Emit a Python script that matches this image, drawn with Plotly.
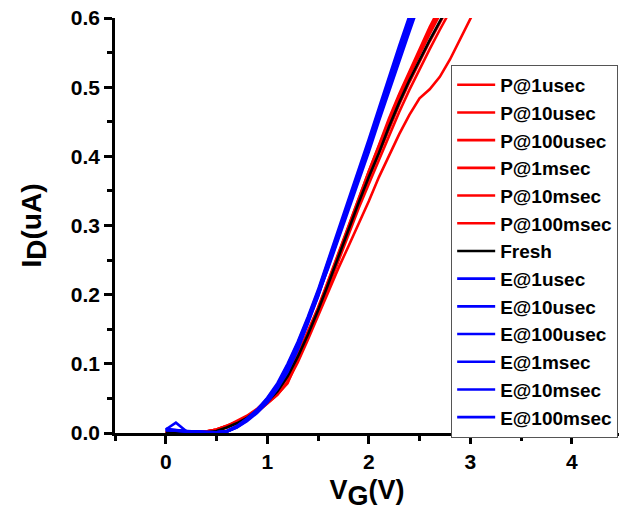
import plotly.graph_objects as go

# Gate voltage sweep (V)
vg = [0.0, 0.1, 0.2, 0.3, 0.4, 0.5, 0.6, 0.7, 0.8, 0.9, 1.0, 1.1, 1.2, 1.3, 1.4, 1.5,
      1.6, 1.7, 1.8, 1.9, 2.0, 2.1, 2.2, 2.3, 2.4, 2.5, 2.6, 2.7, 2.8, 2.9, 3.0, 3.1]

# Drain current (uA) after program pulses
p_1usec = [0.000, 0.000, 0.000, 0.001, 0.002, 0.005, 0.010, 0.016, 0.024, 0.034, 0.047, 0.062, 0.084, 0.112, 0.145, 0.180,
           0.218, 0.258, 0.298, 0.337, 0.375, 0.412, 0.450, 0.485, 0.517, 0.548, 0.577, 0.605, 0.632]
p_10usec = [0.001, 0.000, 0.000, 0.001, 0.002, 0.005, 0.010, 0.016, 0.023, 0.033, 0.046, 0.061, 0.080, 0.108, 0.140, 0.176,
            0.214, 0.254, 0.294, 0.332, 0.368, 0.404, 0.440, 0.475, 0.507, 0.537, 0.566, 0.593, 0.620]
p_100usec = [0.000, 0.000, 0.000, 0.000, 0.001, 0.004, 0.009, 0.015, 0.022, 0.031, 0.043, 0.056, 0.072, 0.105, 0.140, 0.178,
             0.218, 0.259, 0.300, 0.340, 0.378, 0.416, 0.455, 0.490, 0.523, 0.556, 0.587, 0.615]
p_1msec = [0.001, 0.000, 0.000, 0.001, 0.002, 0.004, 0.009, 0.015, 0.023, 0.033, 0.045, 0.060, 0.080, 0.108, 0.139, 0.173,
           0.210, 0.249, 0.287, 0.325, 0.360, 0.395, 0.430, 0.464, 0.496, 0.526, 0.555, 0.583, 0.610]
p_10msec = [0.000, 0.000, 0.000, 0.001, 0.002, 0.005, 0.010, 0.017, 0.025, 0.035, 0.048, 0.064, 0.085, 0.113, 0.146, 0.181,
            0.220, 0.260, 0.300, 0.340, 0.378, 0.415, 0.452, 0.488, 0.520, 0.552, 0.582, 0.610]
p_100msec = [0.001, 0.000, 0.000, 0.000, 0.001, 0.003, 0.008, 0.014, 0.021, 0.030, 0.042, 0.055, 0.074, 0.102, 0.135, 0.170,
             0.205, 0.238, 0.270, 0.302, 0.335, 0.370, 0.402, 0.432, 0.460, 0.484, 0.497, 0.515, 0.540, 0.570, 0.598, 0.628]

# Fresh device
fresh = [0.002, 0.001, 0.000, 0.000, 0.001, 0.003, 0.008, 0.014, 0.022, 0.032, 0.045, 0.060, 0.082, 0.110, 0.142, 0.177,
         0.215, 0.255, 0.295, 0.333, 0.370, 0.405, 0.443, 0.478, 0.510, 0.540, 0.568, 0.595, 0.622]

# Drain current (uA) after erase pulses
e_1usec = [0.005, 0.015, 0.003, 0.002, 0.001, 0.001, 0.002, 0.008, 0.018, 0.030, 0.046, 0.066, 0.092, 0.125, 0.160, 0.197,
           0.240, 0.282, 0.323, 0.366, 0.410, 0.455, 0.500, 0.542, 0.585, 0.628]
e_10usec = [0.004, 0.003, 0.002, 0.001, 0.001, 0.001, 0.002, 0.009, 0.019, 0.031, 0.047, 0.068, 0.095, 0.128, 0.163, 0.201,
            0.244, 0.286, 0.328, 0.371, 0.415, 0.460, 0.505, 0.548, 0.590, 0.632]
e_100usec = [0.006, 0.004, 0.002, 0.001, 0.001, 0.001, 0.003, 0.010, 0.020, 0.033, 0.050, 0.070, 0.098, 0.130, 0.166, 0.205,
             0.248, 0.290, 0.333, 0.376, 0.420, 0.466, 0.511, 0.555, 0.597, 0.640]
e_1msec = [0.005, 0.003, 0.002, 0.002, 0.001, 0.001, 0.002, 0.008, 0.017, 0.029, 0.044, 0.064, 0.088, 0.120, 0.158, 0.198,
           0.242, 0.284, 0.326, 0.369, 0.413, 0.458, 0.503, 0.546, 0.588, 0.630]
e_10msec = [0.004, 0.003, 0.002, 0.001, 0.001, 0.000, 0.002, 0.009, 0.019, 0.032, 0.048, 0.067, 0.093, 0.126, 0.162, 0.200,
            0.238, 0.280, 0.321, 0.363, 0.406, 0.451, 0.495, 0.538, 0.580, 0.622]
e_100msec = [0.005, 0.004, 0.002, 0.001, 0.001, 0.001, 0.003, 0.010, 0.021, 0.034, 0.051, 0.072, 0.100, 0.132, 0.168, 0.207,
             0.250, 0.293, 0.336, 0.380, 0.425, 0.470, 0.516, 0.560, 0.603, 0.645]

series = [
    ("P@1usec", p_1usec, "#ff0000"),
    ("P@10usec", p_10usec, "#ff0000"),
    ("P@100usec", p_100usec, "#ff0000"),
    ("P@1msec", p_1msec, "#ff0000"),
    ("P@10msec", p_10msec, "#ff0000"),
    ("P@100msec", p_100msec, "#ff0000"),
    ("Fresh", fresh, "#000000"),
    ("E@1usec", e_1usec, "#0000ff"),
    ("E@10usec", e_10usec, "#0000ff"),
    ("E@100usec", e_100usec, "#0000ff"),
    ("E@1msec", e_1msec, "#0000ff"),
    ("E@10msec", e_10msec, "#0000ff"),
    ("E@100msec", e_100msec, "#0000ff"),
]

FONT = "Liberation Sans, Arial, sans-serif"

fig = go.Figure()
for name, cur, color in series:
    fig.add_trace(go.Scatter(
        x=vg[:len(cur)], y=cur, mode="lines", name=name,
        line=dict(color=color, width=2.6),
    ))

axis_common = dict(
    showline=True, linecolor="black", linewidth=2.5,
    ticks="outside", ticklen=8, tickwidth=2.5, tickcolor="black",
    showgrid=False, zeroline=False, mirror=False,
    tickfont=dict(family=FONT, size=21, color="black", weight="bold"),
)

fig.update_layout(
    width=619, height=518,
    margin=dict(l=115, r=0, t=18, b=85),
    paper_bgcolor="white", plot_bgcolor="white",
    xaxis=dict(
        range=[-0.5, 4.465], dtick=1, tick0=0,
        minor=dict(dtick=0.5, ticks="outside", ticklen=5, tickwidth=2.5, tickcolor="black"),
        title=dict(text="<b>V<sub><span style='font-size:27px'>G</span></sub>(V)</b>", standoff=9,
                   font=dict(family=FONT, size=27, color="black")),
        **axis_common,
    ),
    yaxis=dict(
        range=[0, 0.6], dtick=0.1, tick0=0, tickformat=".1f",
        minor=dict(dtick=0.05, ticks="outside", ticklen=5, tickwidth=2.5, tickcolor="black"),
        title=dict(text="<b>I<sub><span style='font-size:28px'>D</span></sub>(uA)</b>", standoff=22,
                   font=dict(family=FONT, size=28, color="black")),
        **axis_common,
    ),
    legend=dict(
        x=0.667, y=0.887, xanchor="left", yanchor="top",
        bgcolor="white", bordercolor="#555555", borderwidth=1,
        font=dict(family=FONT, size=19, color="black", weight="bold"),
        tracegroupgap=0, itemwidth=38,
    ),
    showlegend=True,
)

fig.write_html("out.html")
